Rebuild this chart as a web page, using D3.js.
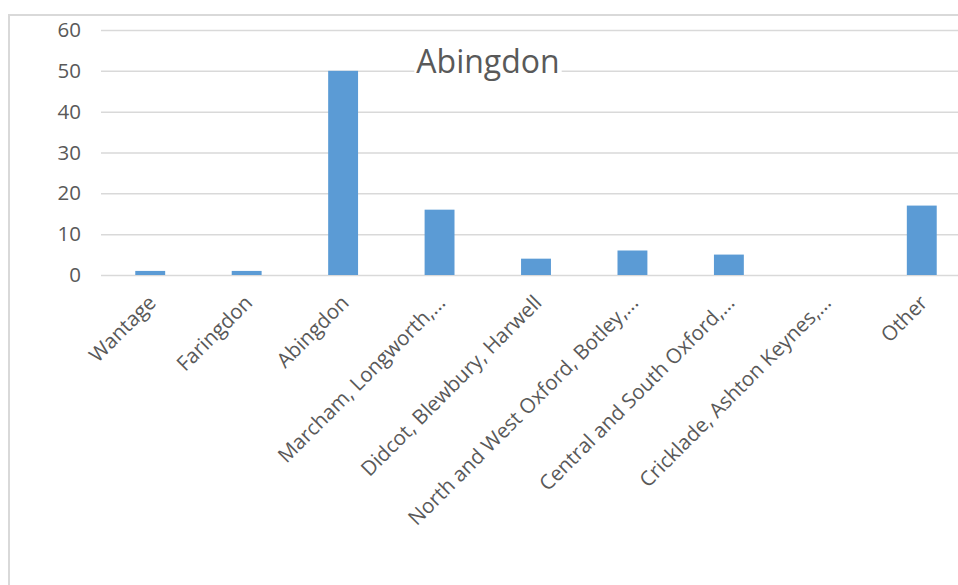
<!DOCTYPE html>
<html>
<head>
<meta charset="utf-8">
<script src="https://cdn.jsdelivr.net/npm/d3@7"></script>
<style>
  html, body { margin: 0; padding: 0; background: #fff; overflow: hidden; }
  svg { display: block; }
</style>
</head>
<body>
<script>
// Responses by area
const chartTitle = "Abingdon";
const categories = [
  "Wantage",
  "Faringdon",
  "Abingdon",
  "Marcham, Longworth,...",
  "Didcot, Blewbury, Harwell",
  "North and West Oxford, Botley,...",
  "Central and South Oxford,...",
  "Cricklade, Ashton Keynes,...",
  "Other"
];
const values = [1, 1, 50, 16, 4, 6, 5, 0, 17];
const yTicks = [0, 10, 20, 30, 40, 50, 60];

const W = 958, H = 585;
const textColor = "#595959";
const gridColor = "#d9d9d9";
const barColor = "#5b9bd5";
const font = "'Open Sans', 'Noto Sans', sans-serif";

const svg = d3.select("body").append("svg")
  .attr("width", W).attr("height", H);

// chart frame (runs past the right and bottom edges)
svg.append("rect")
  .attr("x", 9).attr("y", 15)
  .attr("width", 1200).attr("height", 1200)
  .attr("fill", "#fff")
  .attr("stroke", gridColor).attr("stroke-width", 2);

const x = d3.scaleBand()
  .domain(categories)
  .range([102, 970])
  .paddingInner(0.69)
  .paddingOuter(0.345);

const y = d3.scaleLinear()
  .domain([0, 60])
  .range([275, 30]);

// horizontal gridlines + value labels
const yAxis = d3.axisLeft(y)
  .tickValues(yTicks)
  .tickSize(-(970 - 101))
  .tickPadding(20)
  .tickFormat(d3.format("d"));

const gy = svg.append("g")
  .attr("transform", "translate(101,0)")
  .call(yAxis);
gy.select(".domain").remove();
gy.selectAll(".tick line")
  .attr("stroke", gridColor).attr("stroke-width", 1.5);
gy.selectAll(".tick text")
  .attr("fill", textColor)
  .style("font-family", font)
  .style("font-size", "20.5px");

// bars
svg.append("g").selectAll("rect")
  .data(values)
  .join("rect")
  .attr("x", (d, i) => x(categories[i]))
  .attr("y", d => y(d))
  .attr("width", x.bandwidth())
  .attr("height", d => y(0) - y(d))
  .attr("fill", barColor);

// category labels, rotated
const xAxis = d3.axisBottom(x).tickSize(0).tickPadding(0);
const gx = svg.append("g")
  .attr("transform", "translate(0,275)")
  .call(xAxis);
gx.select(".domain").remove();
gx.selectAll(".tick text")
  .attr("fill", textColor)
  .style("font-family", font)
  .style("font-size", "20.5px")
  .attr("text-anchor", "end")
  .attr("dy", null)
  .attr("y", 0)
  .attr("transform", "translate(7,29) rotate(-45)");

// title with white backing
const tg = svg.append("g");
const title = tg.append("text")
  .attr("x", 488).attr("y", 73)
  .attr("text-anchor", "middle")
  .attr("fill", textColor)
  .style("font-family", font)
  .style("font-size", "32px")
  .text(chartTitle);
const bb = title.node().getBBox();
tg.insert("rect", "text")
  .attr("x", bb.x - 2).attr("y", bb.y + 4)
  .attr("width", bb.width + 4).attr("height", bb.height - 6)
  .attr("fill", "#fff");
</script>
</body>
</html>
